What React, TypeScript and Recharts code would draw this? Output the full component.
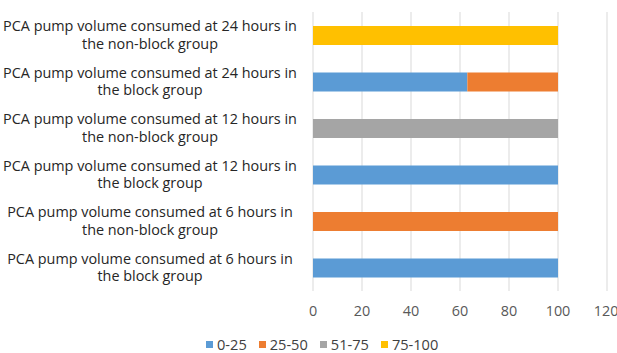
import React from "react";
import {
  BarChart,
  Bar,
  XAxis,
  YAxis,
  CartesianGrid,
  Legend,
} from "recharts";

const categories = [
  "PCA pump volume consumed at 24 hours in the non-block group",
  "PCA pump volume consumed at 24 hours in the block group",
  "PCA pump volume consumed at 12 hours in the non-block group",
  "PCA pump volume consumed at 12 hours in the block group",
  "PCA pump volume consumed at 6 hours in the non-block group",
  "PCA pump volume consumed at 6 hours in the block group",
];

const range0to25 = [0, 63, 0, 100, 0, 100];
const range25to50 = [0, 37, 0, 0, 100, 0];
const range51to75 = [0, 0, 100, 0, 0, 0];
const range75to100 = [100, 0, 0, 0, 0, 0];

const xTicks = [0, 20, 40, 60, 80, 100, 120];

const series = [
  { key: "0-25", color: "#5B9BD5" },
  { key: "25-50", color: "#ED7D31" },
  { key: "51-75", color: "#A5A5A5" },
  { key: "75-100", color: "#FFC000" },
];

const data = categories.map((name, i) => ({
  name,
  "0-25": range0to25[i],
  "25-50": range25to50[i],
  "51-75": range51to75[i],
  "75-100": range75to100[i],
}));

const FONT = "'Open Sans', 'Liberation Sans', sans-serif";

// two-line category label, broken before "the ..."
const CategoryTick = (props: any) => {
  const { y, payload } = props;
  const label: string = payload.value;
  const cut = label.indexOf(" the ");
  const first = label.slice(0, cut);
  const second = label.slice(cut + 1);
  return (
    <text
      x={150}
      y={y}
      textAnchor="middle"
      fill="#262626"
      fontSize={14.4}
      fontFamily={FONT}
    >
      <tspan x={150} dy={-4}>
        {first}
      </tspan>
      <tspan x={150} dy={17.5}>
        {second}
      </tspan>
    </text>
  );
};

const LegendRow = () => (
  <div
    style={{
      width: 617,
      height: 32,
      display: "flex",
      alignItems: "flex-end",
      paddingLeft: 206,
      boxSizing: "border-box",
      fontFamily: FONT,
      fontSize: 14.6,
      color: "#404040",
    }}
  >
    {series.map((s) => (
      <div
        key={s.key}
        style={{ display: "flex", alignItems: "center", marginRight: 12, lineHeight: "17px", paddingBottom: 0 }}
      >
        <span
          style={{ width: 7, height: 7, background: s.color, marginRight: 4, display: "inline-block" }}
        />
        {s.key}
      </div>
    ))}
  </div>
);

export default function App() {
  return (
    <div style={{ position: "absolute", left: 0, top: 0, background: "#fff" }}>
      <BarChart
        width={617}
        height={353}
        data={data}
        layout="vertical"
        margin={{ top: 12, right: 10, left: 0, bottom: 0 }}
        barSize={19}
      >
        <CartesianGrid horizontal={false} stroke="#d9d9d9" />
        <XAxis
          type="number"
          domain={[0, 120]}
          ticks={xTicks}
          axisLine={false}
          tickLine={false}
          tickMargin={9}
          height={30}
          tick={{ fill: "#595959", fontSize: 14.4, fontFamily: FONT }}
        />
        <YAxis
          type="category"
          dataKey="name"
          width={313}
          axisLine={false}
          tickLine={false}
          tick={<CategoryTick />}
        />
        <Legend verticalAlign="bottom" content={<LegendRow />} />
        {series.map((s) => (
          <Bar
            key={s.key}
            dataKey={s.key}
            stackId="a"
            fill={s.color}
            isAnimationActive={false}
          />
        ))}
      </BarChart>
    </div>
  );
}
